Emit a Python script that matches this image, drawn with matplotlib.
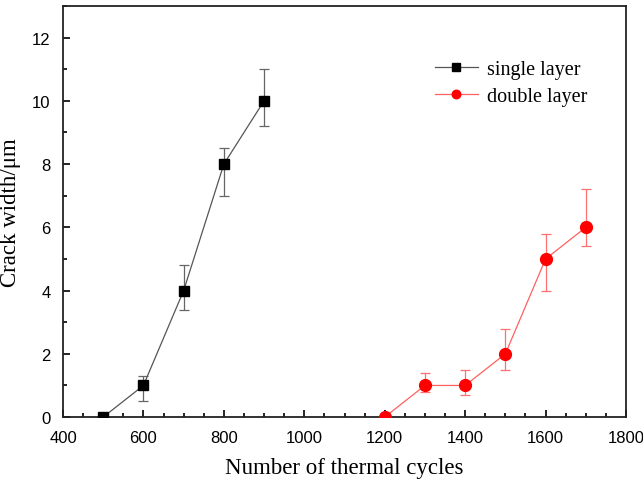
import matplotlib
matplotlib.use("Agg")
import matplotlib.pyplot as plt
from matplotlib.ticker import MultipleLocator

single_x = [500, 600, 700, 800, 900]
single_y = [0, 1, 4, 8, 10]
single_lo = [0, 0.5, 3.4, 7.0, 9.2]
single_hi = [0, 1.3, 4.8, 8.5, 11.0]

double_x = [1200, 1300, 1400, 1500, 1600, 1700]
double_y = [0, 1, 1, 2, 5, 6]
double_lo = [0, 0.8, 0.7, 1.5, 4.0, 5.4]
double_hi = [0, 1.4, 1.5, 2.8, 5.8, 7.2]

fig = plt.figure(figsize=(6.43, 4.85), dpi=100)
ax = fig.add_axes([0.098, 0.138, 0.8756, 0.8476])

s_err = [[y - l for y, l in zip(single_y, single_lo)], [h - y for y, h in zip(single_y, single_hi)]]
d_err = [[y - l for y, l in zip(double_y, double_lo)], [h - y for y, h in zip(double_y, double_hi)]]

ax.errorbar(single_x, single_y, yerr=s_err, fmt='none', ecolor='#666666', elinewidth=0.9, capsize=3.5, capthick=0.9, zorder=2)
ax.plot(single_x, single_y, '-', color='#555555', lw=0.9, marker='s', ms=7.5, mfc='black', mec='black', label='single layer', zorder=3)
ax.errorbar(double_x, double_y, yerr=d_err, fmt='none', ecolor='#ff7070', elinewidth=0.9, capsize=3.5, capthick=0.9, zorder=2)
ax.plot(double_x, double_y, '-', color='#ff6060', lw=0.9, marker='o', ms=8.5, mfc='red', mec='red', label='double layer', zorder=3)

ax.set_xlim(400, 1800)
ax.set_ylim(0, 13)
ax.xaxis.set_major_locator(MultipleLocator(200))
ax.xaxis.set_minor_locator(MultipleLocator(50))
ax.yaxis.set_major_locator(MultipleLocator(2))
ax.yaxis.set_minor_locator(MultipleLocator(1))
ax.tick_params(which='both', direction='in', top=False, right=False, width=1.2)
ax.tick_params(which='major', length=5, labelsize=12, pad=9)
ax.tick_params(which='minor', length=3)
for lab in ax.get_xticklabels() + ax.get_yticklabels():
    lab.set_fontfamily('Liberation Sans')
for sp in ax.spines.values():
    sp.set_linewidth(1.3)
    sp.set_color('#222222')

ax.set_xlabel('Number of thermal cycles', fontfamily='Liberation Serif', fontsize=16.5, labelpad=9)
ax.set_ylabel('Crack width/μm', fontfamily='Liberation Serif', fontsize=16.5, labelpad=8)

leg = ax.legend(loc='upper left', bbox_to_anchor=(0.629, 0.914), frameon=False,
                prop={'family': 'Liberation Serif', 'size': 14.5}, handlelength=2.1,
                handletextpad=0.45, labelspacing=0.4, markerscale=0.72)

fig.savefig('out.png', dpi=100)
